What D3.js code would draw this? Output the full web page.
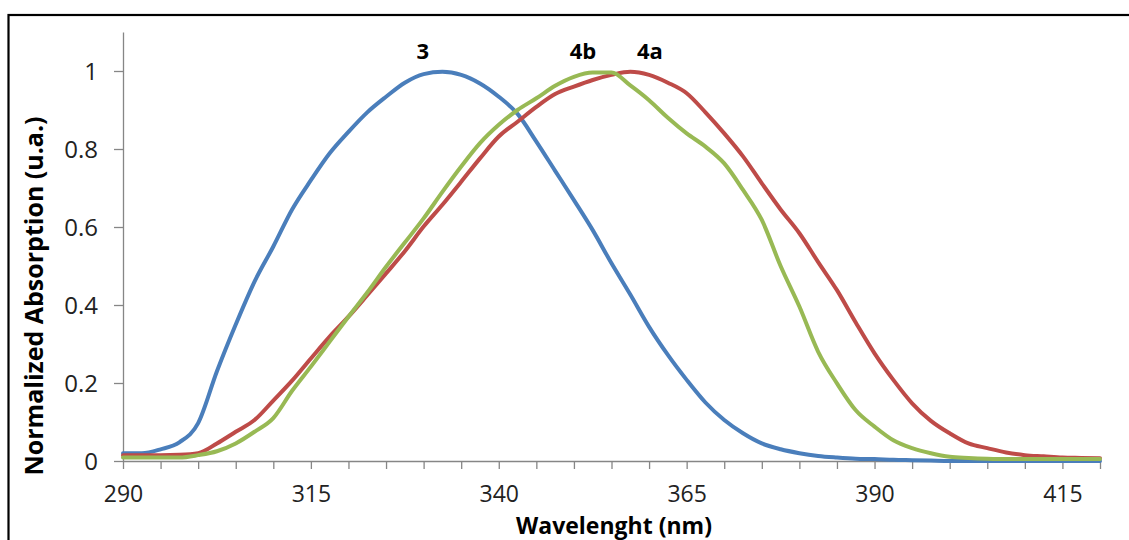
<!DOCTYPE html>
<html>
<head>
<meta charset="utf-8">
<script src="https://cdn.jsdelivr.net/npm/d3@7"></script>
<style>
	body { margin: 0; background: #fff; }
	svg { display: block; }
	.axis path, .axis line { stroke: #868686; stroke-width: 1.3; }
	.axis text { font-family: "Open Sans", sans-serif; font-size: 24px; fill: #222; }
	.x.axis text { font-size: 23px; }
	.title { font-family: "Open Sans", sans-serif; font-weight: bold; fill: #000; }
	.label { font-family: "Open Sans", sans-serif; font-weight: bold; font-size: 22px; fill: #000; }
</style>
</head>
<body>
<svg width="1129" height="540"></svg>
<script>
// wavelength grid (nm)
var wavelength = [290, 292.5, 295, 297.5, 300, 302.5, 305, 307.5, 310, 312.5,
	315, 317.5, 320, 322.5, 325, 327.5, 330, 332.5, 335, 337.5,
	340, 342.5, 345, 347.5, 350, 352.5, 355, 357.5, 360, 362.5,
	365, 367.5, 370, 372.5, 375, 377.5, 380, 382.5, 385, 387.5,
	390, 392.5, 395, 397.5, 400, 402.5, 405, 407.5, 410, 412.5,
	415, 417.5, 420];

var abs3 = [0.02, 0.02, 0.03, 0.048, 0.097, 0.23, 0.35, 0.46, 0.55, 0.645,
	0.72, 0.789, 0.844, 0.894, 0.934, 0.97, 0.992, 0.998, 0.99, 0.968,
	0.934, 0.89, 0.819, 0.744, 0.669, 0.592, 0.507, 0.427, 0.344, 0.272,
	0.208, 0.15, 0.105, 0.071, 0.045, 0.03, 0.02, 0.013, 0.009, 0.006,
	0.005, 0.003, 0.002, 0.001, 0, 0, 0, 0, 0, 0,
	0, 0, 0];

var abs4a = [0.015, 0.015, 0.015, 0.016, 0.02, 0.045, 0.075, 0.105, 0.155, 0.206,
	0.263, 0.319, 0.37, 0.425, 0.481, 0.538, 0.601, 0.657, 0.716, 0.776,
	0.832, 0.87, 0.908, 0.941, 0.96, 0.977, 0.99, 0.998, 0.99, 0.97,
	0.943, 0.894, 0.84, 0.781, 0.712, 0.645, 0.584, 0.51, 0.438, 0.355,
	0.276, 0.208, 0.148, 0.103, 0.071, 0.045, 0.033, 0.022, 0.015, 0.012,
	0.009, 0.008, 0.007];

var abs4b = [0.009, 0.009, 0.009, 0.009, 0.015, 0.025, 0.045, 0.075, 0.11, 0.18,
	0.242, 0.306, 0.37, 0.432, 0.498, 0.56, 0.622, 0.69, 0.755, 0.815,
	0.862, 0.9, 0.93, 0.962, 0.985, 0.996, 0.996, 0.963, 0.925, 0.88,
	0.84, 0.806, 0.763, 0.695, 0.618, 0.5, 0.396, 0.28, 0.199, 0.13,
	0.088, 0.053, 0.033, 0.02, 0.011, 0.008, 0.006, 0.005, 0.005, 0.005,
	0.005, 0.005, 0.005];

var seriesNames = ["3", "4a", "4b"];
var seriesColors = ["#4a7ebb", "#be4b48", "#98b954"];

// curve labels: text, wavelength, value
var labelText = ["3", "4b", "4a"];
var labelX = [329.9, 351.2, 360.1];
var labelY = [1.03, 1.03, 1.03];

var xTicks = d3.range(290, 421, 5);
var xTickLabels = [290, 315, 340, 365, 390, 415];
var yTicks = [0, 0.2, 0.4, 0.6, 0.8, 1];

var svgWidth = 1129, svgHeight = 540;
var margin = { top: 32, right: 29, bottom: 79, left: 123 },
	width = svgWidth - margin.left - margin.right,
	height = svgHeight - margin.top - margin.bottom;

var svg = d3.select("svg");

// outer frame
svg.append("rect")
	.attr("x", 8.5)
	.attr("y", 15)
	.attr("width", 1200)
	.attr("height", 600)
	.attr("fill", "none")
	.attr("stroke", "#000")
	.attr("stroke-width", 2.2);

var xScale = d3.scaleLinear()
	.domain([290, 420])
	.range([0, width]);

var yScale = d3.scaleLinear()
	.domain([0, 1.1])
	.range([height, 0]);

var g = svg.append("g")
	.attr("transform", "translate(" + margin.left + "," + margin.top + ")");

var xAxis = d3.axisBottom(xScale)
	.tickValues(xTicks)
	.tickSize(8)
	.tickSizeOuter(0)
	.tickPadding(17)
	.tickFormat(function(d) { return xTickLabels.indexOf(d) >= 0 ? d : ""; });

var yAxis = d3.axisLeft(yScale)
	.tickValues(yTicks)
	.tickSize(9)
	.tickSizeOuter(0)
	.tickPadding(16)
	.tickFormat(function(d) { return d; });

g.append("g")
	.attr("class", "x axis")
	.attr("transform", "translate(0," + height + ")")
	.call(xAxis);

g.append("g")
	.attr("class", "y axis")
	.call(yAxis);

g.selectAll(".y.axis .tick text").attr("dy", "0.35em");

// series
var line = d3.line()
	.x(function(d) { return xScale(d[0]); })
	.y(function(d) { return yScale(d[1]); })
	.curve(d3.curveMonotoneX);

var allSeries = [abs3, abs4a, abs4b];
allSeries.forEach(function(vals, i) {
	g.append("path")
		.datum(wavelength.map(function(w, j) { return [w, vals[j]]; }))
		.attr("fill", "none")
		.attr("stroke", seriesColors[i])
		.attr("stroke-width", 4)
		.attr("stroke-linejoin", "round")
		.attr("stroke-linecap", "round")
		.attr("d", line);
});

labelText.forEach(function(t, i) {
	g.append("text")
		.attr("class", "label")
		.attr("x", xScale(labelX[i]))
		.attr("y", yScale(labelY[i]))
		.style("text-anchor", "middle")
		.text(t);
});

// axis titles
svg.append("text")
	.attr("class", "title")
	.attr("x", 614)
	.attr("y", 534)
	.style("font-size", "23px")
	.style("text-anchor", "middle")
	.text("Wavelenght (nm)");

svg.append("text")
	.attr("class", "title")
	.attr("transform", "translate(43,296) rotate(-90)")
	.style("font-size", "25px")
	.style("text-anchor", "middle")
	.text("Normalized Absorption (u.a.)");
</script>
</body>
</html>
